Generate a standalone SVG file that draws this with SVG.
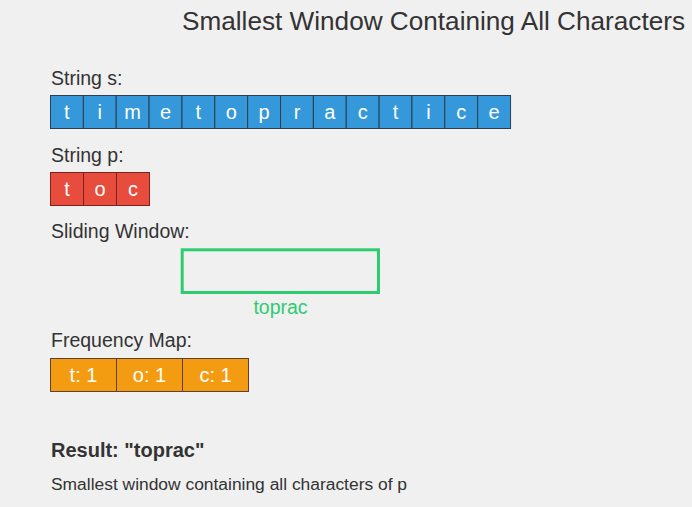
<svg xmlns="http://www.w3.org/2000/svg" width="692" height="507" viewBox="0 0 692 507">
<style>
text{font-family:"Liberation Sans",Arial,sans-serif}
.lbl{font-size:19.5px;fill:#333}
.c{font-size:20px;fill:#fff;text-anchor:middle}
.fc{font-size:20px;fill:#fff;text-anchor:middle}
.s{fill:#3498db;stroke:#2c3e50;stroke-width:1}
.p{fill:#e74c3c;stroke:#7b241c;stroke-width:1}
.f{fill:#f39c12;stroke:#5d4037;stroke-width:1}
</style>
<rect width="692" height="507" fill="#f0f0f0"/>
<text x="182" y="30" textLength="503" lengthAdjust="spacingAndGlyphs" style="font-size:25px;fill:#333">Smallest Window Containing All Characters</text>
<text class="lbl" x="51" y="85">String s:</text>
<g id="string-s">
<rect class="s" x="50.5" y="95.5" width="32.86" height="33"/>
<rect class="s" x="83.36" y="95.5" width="32.86" height="33"/>
<rect class="s" x="116.22" y="95.5" width="32.86" height="33"/>
<rect class="s" x="149.08" y="95.5" width="32.86" height="33"/>
<rect class="s" x="181.94" y="95.5" width="32.86" height="33"/>
<rect class="s" x="214.8" y="95.5" width="32.86" height="33"/>
<rect class="s" x="247.66" y="95.5" width="32.86" height="33"/>
<rect class="s" x="280.52" y="95.5" width="32.86" height="33"/>
<rect class="s" x="313.38" y="95.5" width="32.86" height="33"/>
<rect class="s" x="346.24" y="95.5" width="32.86" height="33"/>
<rect class="s" x="379.1" y="95.5" width="32.86" height="33"/>
<rect class="s" x="411.96" y="95.5" width="32.86" height="33"/>
<rect class="s" x="444.82" y="95.5" width="32.86" height="33"/>
<rect class="s" x="477.68" y="95.5" width="32.86" height="33"/>
<text class="c" x="66.9" y="118.5">t</text>
<text class="c" x="99.8" y="118.5">i</text>
<text class="c" x="132.7" y="118.5">m</text>
<text class="c" x="165.5" y="118.5">e</text>
<text class="c" x="198.4" y="118.5">t</text>
<text class="c" x="231.2" y="118.5">o</text>
<text class="c" x="264.1" y="118.5">p</text>
<text class="c" x="297" y="118.5">r</text>
<text class="c" x="329.8" y="118.5">a</text>
<text class="c" x="362.7" y="118.5">c</text>
<text class="c" x="395.5" y="118.5">t</text>
<text class="c" x="428.4" y="118.5">i</text>
<text class="c" x="461.3" y="118.5">c</text>
<text class="c" x="494.1" y="118.5">e</text>
</g>
<text class="lbl" x="51" y="162">String p:</text>
<g id="string-p">
<rect class="p" x="50.5" y="172.5" width="33" height="33"/>
<rect class="p" x="83.5" y="172.5" width="33" height="33"/>
<rect class="p" x="116.5" y="172.5" width="33" height="33"/>
<text class="c" x="67" y="195.5">t</text>
<text class="c" x="100" y="195.5">o</text>
<text class="c" x="133" y="195.5">c</text>
</g>
<text class="lbl" x="51" y="238">Sliding Window:</text>
<g id="window">
<rect x="182.2" y="249.8" width="196.3" height="42.7" fill="none" stroke="#2ecc71" stroke-width="3"/>
<text x="280.5" y="314" text-anchor="middle" style="font-size:19.5px;fill:#2ecc71">toprac</text>
</g>
<text class="lbl" x="51" y="347">Frequency Map:</text>
<g id="freq">
<rect class="f" x="50.5" y="358.5" width="66" height="33"/>
<rect class="f" x="116.5" y="358.5" width="66" height="33"/>
<rect class="f" x="182.5" y="358.5" width="66" height="33"/>
<text class="fc" x="83.5" y="381.5">t: 1</text>
<text class="fc" x="149.5" y="381.5">o: 1</text>
<text class="fc" x="215.5" y="381.5">c: 1</text>
</g>
<text x="51" y="457" style="font-size:20px;font-weight:bold;fill:#333">Result: "toprac"</text>
<text x="51" y="490" textLength="356" lengthAdjust="spacingAndGlyphs" style="font-size:16px;fill:#333">Smallest window containing all characters of p</text>
<g id="connectors"/>
</svg>
